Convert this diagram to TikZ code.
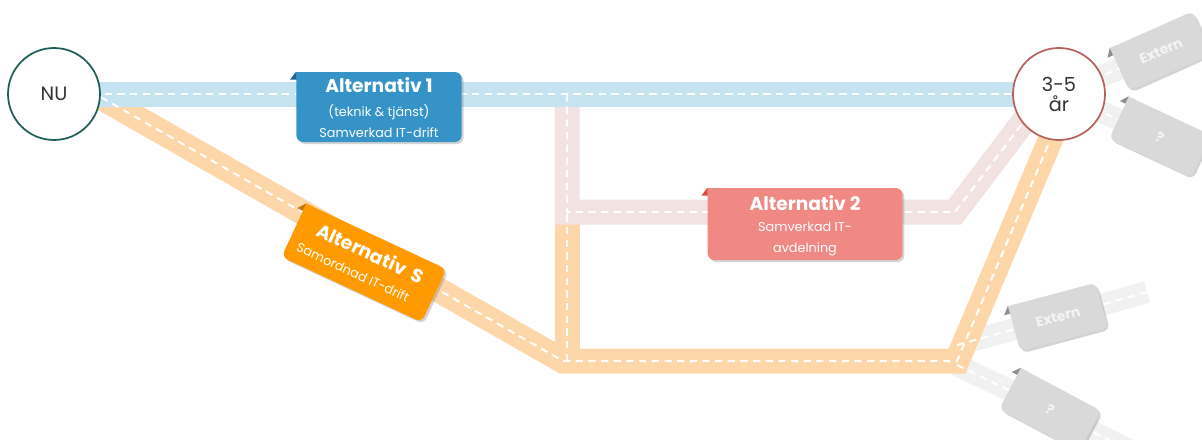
\documentclass[tikz,border=0pt]{standalone}
\usepackage{fontspec}
\setmainfont{Poppins}
\usetikzlibrary{shadows,calc}
\definecolor{roadblue}{HTML}{C6E3F1}
\definecolor{roadorange}{HTML}{FDD7AA}
\definecolor{roadpink}{HTML}{F3E2E2}
\definecolor{roadgray}{HTML}{F1F1F1}
\definecolor{altone}{HTML}{3593C7}
\definecolor{altonetab}{HTML}{1F6390}
\definecolor{alttwo}{HTML}{F08884}
\definecolor{alttwotab}{HTML}{D9473F}
\definecolor{alts}{HTML}{FF9B00}
\definecolor{altstab}{HTML}{C87400}
\definecolor{graybox}{HTML}{D9D9D9}
\definecolor{graytab}{HTML}{8E8E8E}
\definecolor{graytext}{HTML}{F4F4F4}
\definecolor{nuborder}{HTML}{1E5E57}
\definecolor{yrborder}{HTML}{B9625D}
\definecolor{circtext}{HTML}{333333}
\pgfdeclarelayer{bands}
\pgfdeclarelayer{lanes}
\pgfsetlayers{bands,lanes,main}
\begin{document}
\begin{tikzpicture}[x=0.75pt,y=-0.75pt,
  band/.style={line width=18.75pt, line join=miter},
  grayband/.style={line width=16.5pt, line join=miter, roadgray},
  lane/.style={white, line width=1.5pt, dash pattern=on 5.5pt off 4pt, line join=miter},
  milestone/.style={circle, minimum size=69pt, inner sep=0pt, fill=white, line width=1.3pt, text=circtext, font=\fontsize{14.5}{17}\selectfont, align=center},
  altbox/.style={rounded corners=5pt, inner sep=0pt, text=white, align=center, transform shape,
     drop shadow={shadow xshift=1.5pt, shadow yshift=-1.5pt, opacity=0.35}},
  ghostbox/.style={altbox, fill=graybox, text=graytext, font=\bfseries\fontsize{10.5}{12}\selectfont,
     minimum width=68pt, minimum height=35pt},
  titlefont/.style={font=\bfseries\fontsize{14}{16}\selectfont},
  subfont/.style={font=\fontsize{9.6}{15.5}\selectfont},
]
\useasboundingbox (0,0) rectangle (1202,439);

% milestones
\node[milestone, draw=nuborder] (nu) at (54,94) {NU};
\node[milestone, draw=yrborder] (yr) at (1059,94) {3-5\\[-2pt]år};

% helper coordinates for the roads
\coordinate (ostart) at (90,91);
\coordinate (obend) at (563,361);
\coordinate (overt) at (567,361);
\coordinate (oright) at (957,361);
\coordinate (oend) at (1062,112);
\coordinate (ptop) at (567,94);
\coordinate (pbend) at (567,212);
\coordinate (pright) at (955,212);
\coordinate (pend) at (1040,100);
\coordinate (gthreestart) at (957,345);
\coordinate (gthreeend) at (1147,292);
\coordinate (gfourstart) at (957,365);
\coordinate (gfourend) at (1150,461);

% boxes
\begin{scope}[shift={(379,107)}]
  \node[altbox, fill=altone, minimum width=124pt, minimum height=52.5pt] (alt1) at (0,0) {};
  \fill[altone] (alt1.north west) rectangle ++(8,8);
  \fill[altonetab] (alt1.north west) -- ++(0,8) -- ++(-6,0) -- cycle;
  \node[titlefont, text=white] (alt1title) at (0,-22) {Alternativ 1};
  \node[text=white, subfont, align=center] (alt1sub) at (0,14) {(teknik \& tjänst)\\Samverkad IT-drift};
\end{scope}

\begin{scope}[shift={(805,224)}]
  \node[altbox, fill=alttwo, minimum width=146pt, minimum height=54pt] (alt2) at (0,0) {};
  \fill[alttwo] (alt2.north west) rectangle ++(8,8);
  \fill[alttwotab] (alt2.north west) -- ++(0,8) -- ++(-6,0) -- cycle;
  \node[titlefont, text=white] (alt2title) at (0,-21) {Alternativ 2};
  \node[text=white, subfont, align=center] (alt2sub) at (0,15) {Samverkad IT-\\avdelning};
\end{scope}

\begin{scope}[shift={(364,263)}, rotate=-25]
  \node[altbox, fill=alts, minimum width=116pt, minimum height=44pt] (alts) at (0,0) {};
  \fill[alts] (alts.north west) rectangle ++(8,8);
  \fill[altstab] (alts.north west) -- ++(0,8) -- ++(-6,0) -- cycle;
  \node[titlefont, text=white, transform shape, inner sep=1pt] (altstitle) at (2,-12) {Alternativ\ \ S};
  \node[text=white, font=\fontsize{9.6}{11}\selectfont, transform shape, inner sep=1pt] (altssub) at (-6,13) {Samordnad IT-drift};
\end{scope}

\begin{scope}[shift={(1161,51)}, rotate=24]
  \node[ghostbox] (ext1) at (0,0) {Extern};
  \fill[graybox] (ext1.north west) rectangle ++(8,8);
  \fill[graytab] (ext1.north west) -- ++(0,8) -- ++(-6,0) -- cycle;
\end{scope}

\begin{scope}[shift={(1160,137)}, rotate=-25]
  \node[ghostbox] (q1) at (0,0) {?};
  \fill[graybox] (q1.north west) rectangle ++(8,8);
  \fill[graytab] (q1.north west) -- ++(0,8) -- ++(-6,0) -- cycle;
\end{scope}

\begin{scope}[shift={(1058,317)}, rotate=15]
  \node[ghostbox] (ext2) at (0,0) {Extern};
  \fill[graybox] (ext2.north west) rectangle ++(8,8);
  \fill[graytab] (ext2.north west) -- ++(0,8) -- ++(-6,0) -- cycle;
\end{scope}

\begin{scope}[shift={(1050,410)}, rotate=-28]
  \node[ghostbox] (q2) at (0,0) {?};
  \fill[graybox] (q2.north west) rectangle ++(8,8);
  \fill[graytab] (q2.north west) -- ++(0,8) -- ++(-6,0) -- cycle;
\end{scope}

% road bands
\begin{pgfonlayer}{bands}
  \draw[grayband] (yr.center) -- (ext1.center);
  \draw[grayband] (yr.center) -- (q1.center);
  \draw[grayband] (gthreestart) -- (ext2.center) -- (gthreeend);
  \draw[grayband] (gfourstart) -- (q2.center) -- (gfourend);
  \draw[band, roadorange] (nu.center) ++(36,-3) -- (obend) -- (oright) -- (oend);
  \draw[band, roadorange] (overt) -- (pbend);
  \draw[band, roadpink] (ptop) -- (pbend) -- (pright) -- (pend);
  \draw[band, roadblue] (nu.center) -- (yr.center);
\end{pgfonlayer}

% lane markings
\begin{pgfonlayer}{lanes}
  \draw[lane] (nu.center) -- (yr.center);
  \draw[lane] (ostart) -- (obend) -- (oright) -- (oend);
  \draw[lane] (overt) -- (pbend);
  \draw[lane] (ptop) -- (pbend) -- (pright) -- (pend);
  \draw[lane] (yr.center) -- (ext1.center);
  \draw[lane] (yr.center) -- (q1.center);
  \draw[lane] (gthreestart) -- (ext2.center) -- (gthreeend);
  \draw[lane] (gfourstart) -- (q2.center) -- (gfourend);
\end{pgfonlayer}
\end{tikzpicture}
\end{document}
